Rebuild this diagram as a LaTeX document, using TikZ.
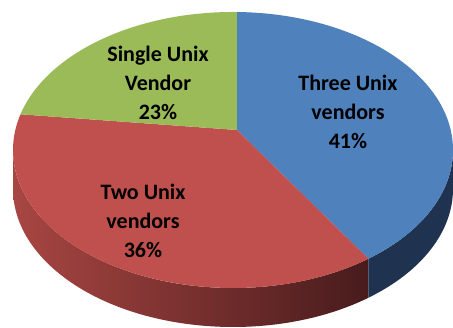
\documentclass[tikz,border=0pt]{standalone}
\usepackage{fontspec}
\setmainfont{Carlito}
\usetikzlibrary{positioning,calc}
\definecolor{threecolor}{RGB}{79,129,189}
\definecolor{twocolor}{RGB}{192,80,77}
\definecolor{singlecolor}{RGB}{155,187,89}
\definecolor{threeside}{RGB}{31,51,80}
\definecolor{twosideL}{RGB}{168,70,66}
\definecolor{twosideR}{RGB}{72,27,28}
\begin{document}
\begin{tikzpicture}[x=1pt, y=1pt, every node/.style={font=\fontsize{22}{29}\selectfont\bfseries, align=center}]
    \useasboundingbox (0,0) rectangle (453,328);
    \coordinate (o) at (233,178);
    \coordinate (apex) at (237,198);
    % sides
    \shade[left color=twosideL, right color=twosideR] ($(o)+(180:220 and 138)$) arc[start angle=180, end angle=308, x radius=220, y radius=138] -- ++(0,-39) arc[start angle=308, end angle=180, x radius=220, y radius=138] -- cycle;
    \fill[threeside] ($(o)+(308:220 and 138)$) arc[start angle=308, end angle=360, x radius=220, y radius=138] -- ++(0,-39) arc[start angle=360, end angle=308, x radius=220, y radius=138] -- cycle;
    % top faces
    \fill[threecolor] (apex) -- ($(o)+(89:220 and 138)$) arc[start angle=89, end angle=-52, x radius=220, y radius=138] -- cycle;
    \fill[twocolor] (apex) -- ($(o)+(-52:220 and 138)$) arc[start angle=-52, end angle=-195, x radius=220, y radius=138] -- cycle;
    \fill[singlecolor] (apex) -- ($(o)+(165:220 and 138)$) arc[start angle=165, end angle=89, x radius=220, y radius=138] -- cycle;
    % labels
    \node (single) at (158,245) {Single Unix\\Vendor\\23\%};
    \node (three) at (348,216) {Three Unix\\vendors\\41\%};
    \node (two) at (143,107) {Two Unix\\vendors\\36\%};
  \end{tikzpicture}
\end{document}
